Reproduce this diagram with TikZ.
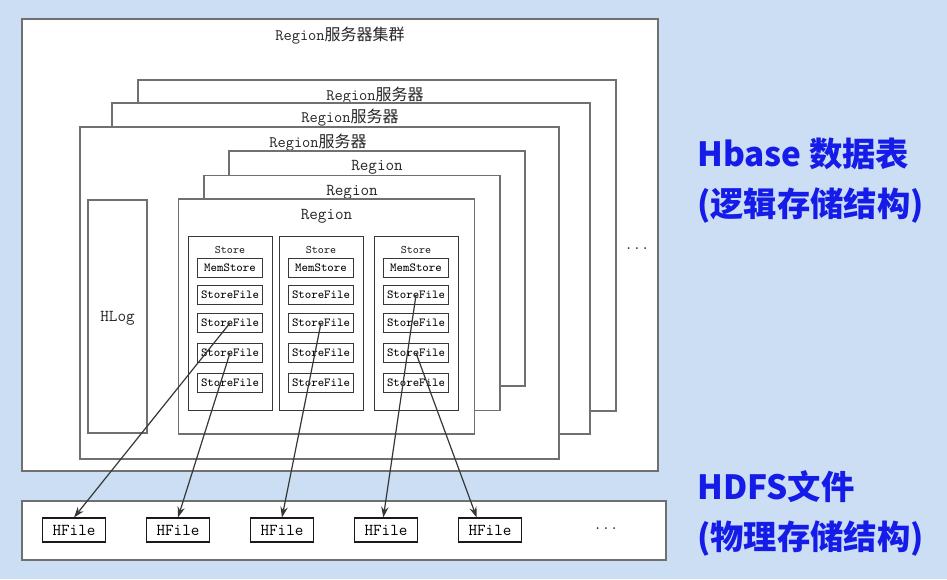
\documentclass[tikz,border=0pt]{standalone}
\usepackage{fontspec}
\setmainfont{Latin Modern Mono}
\newfontfamily\cjk{Noto Sans CJK SC}
\usetikzlibrary{arrows.meta}

\definecolor{bgblue}{RGB}{203,222,243}
\definecolor{hbblue}{RGB}{22,28,232}
\definecolor{framegray}{RGB}{112,112,112}
\definecolor{linegray}{RGB}{55,55,55}

\tikzset{
    frame/.style={draw=framegray, fill=white, line width=0.9pt, inner sep=0pt},
    sbox/.style={draw=linegray, fill=white, line width=0.6pt, inner sep=0pt,
        minimum width=48.75pt, minimum height=14.25pt, font=\fontsize{9.2pt}{10pt}\selectfont},
    hfbox/.style={draw=black!90, fill=white, line width=0.8pt, inner sep=0pt,
        minimum width=47.25pt, minimum height=18pt, font=\fontsize{12.5pt}{13pt}\selectfont},
    ttl/.style={text=black!85, inner sep=0pt, yshift=-1.2pt, font=\fontsize{12pt}{13pt}\selectfont},
    srvttl/.style={ttl, yshift=1.6pt},
    conn/.style={draw=linegray, line width=0.9pt, -{Stealth[length=8pt, width=5.5pt]}},
    bluetxt/.style={text=hbblue, anchor=base west, inner sep=0pt,
        font=\cjk\bfseries\fontsize{25pt}{28pt}\selectfont},
}

\begin{document}
\begin{tikzpicture}[x=0.75pt, y=-0.75pt]
    % 背景
    \fill[bgblue] (0, 0) rectangle (947, 579);

    % 集群
    \node[frame, minimum width=477pt, minimum height=339pt] (cluster) at (340, 245) {};
    \node[ttl] (clustert) at (340, 34) {Region{\cjk 服务器集群}};

    % 服务器
    \node[frame, minimum width=358.5pt, minimum height=248.25pt] (srv1) at (377, 245.5) {};
    \node[srvttl] (srv1t) at (375, 96) {Region{\cjk 服务器}};
    \node[frame, minimum width=358.5pt, minimum height=248.25pt] (srv2) at (351, 268.5) {};
    \node[srvttl] (srv2t) at (350, 118) {Region{\cjk 服务器}};
    \node[frame, minimum width=359.25pt, minimum height=249pt] (srv3) at (319.5, 293) {};
    \node[srvttl] (srv3t) at (318, 143) {Region{\cjk 服务器}};
    \node[ttl] (dots1) at (637, 247) {...};

    % HLog
    \node[frame, minimum width=44.25pt, minimum height=174.75pt] (hlog) at (117.5, 316.5) {};
    \node[ttl, font=\fontsize{12.5pt}{13pt}\selectfont] (hlogt) at (117.5, 317) {HLog};

    % Region
    \foreach \r/\x/\y/\t in {1/377/268.5/166, 2/352/293/191, 3/326.5/316.5/215} {
        \node[frame, minimum width=222pt, minimum height=176.25pt] (reg\r) at (\x, \y) {};
        \node[ttl, font=\fontsize{12.5pt}{13pt}\selectfont] (reg\r t) at (\x, \t) {Region};
    }

    % Store
    \foreach \i/\x in {1/230, 2/321, 3/416} {
        \node[frame, draw=linegray, line width=0.7pt, minimum width=63pt, minimum height=130.5pt] (st\i) at (\x, 323) {};
        \node[ttl, font=\fontsize{8.6pt}{9pt}\selectfont] (st\i t) at (\x, 248) {Store};
        \node[sbox] (ms\i) at (\x, 268) {MemStore};
        \foreach \j/\y in {1/295, 2/323, 3/353, 4/383}
            \node[sbox] (sf\i\j) at (\x, \y) {StoreFile};
    }

    % HDFS
    \node[frame, minimum width=483pt, minimum height=44.25pt] (hdfs) at (344, 530.5) {};
    \foreach \k/\x in {1/74, 2/178, 3/282, 4/386, 5/490}
        \node[hfbox] (hf\k) at (\x, 530) {HFile};
    \node[ttl] (dots2) at (606, 527) {...};

    % 连线
    \draw[conn] (sf12.center) -- (hf1.north);
    \draw[conn] (sf13.center) -- (hf2.north);
    \draw[conn] (sf22.center) -- (hf3.north);
    \draw[conn] (sf31.center) -- ([xshift=-2pt]hf4.north);
    \draw[conn] (sf33.center) -- ([xshift=-10pt]hf5.north);

    % 说明
    \node[bluetxt] (lbl1) at (697, 166) {Hbase 数据表};
    \node[bluetxt] (lbl2) at (697, 216) {(逻辑存储结构)};
    \node[bluetxt] (lbl3) at (697, 499) {HDFS文件};
    \node[bluetxt] (lbl4) at (697, 549) {(物理存储结构)};
\end{tikzpicture}
\end{document}
